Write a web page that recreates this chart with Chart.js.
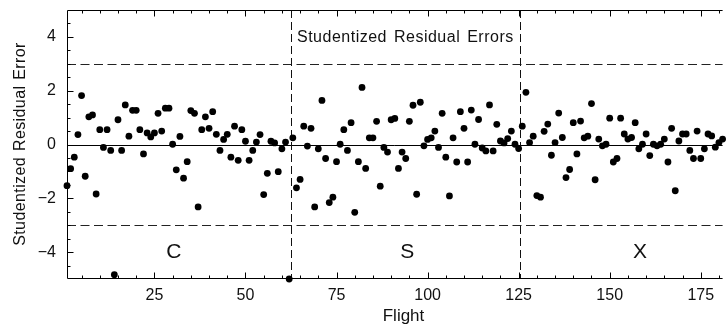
<!DOCTYPE html>
<html>
<head>
<meta charset="UTF-8">
<title>Studentized Residual Errors</title>
<script src="https://cdn.jsdelivr.net/npm/chart.js@4"></script>
<style>
  html, body { margin: 0; padding: 0; background: #fff; overflow: hidden; }
  #wrap { width: 726px; height: 326px; }
</style>
</head>
<body>
<div id="wrap"><canvas id="chart" width="726" height="326"></canvas></div>
<script>
// studentized residual per flight, flight 1..181
const residuals = [
  -1.53, -0.90, -0.47, 0.37, 1.82, -1.18, 1.03, 1.10, -1.84, 0.55,
  -0.11, 0.55, -0.22, -4.84, 0.92, -0.22, 1.47, 0.31, 1.27, 1.27,
  0.55, -0.35, 0.43, 0.28, 0.43, 1.16, 0.50, 1.35, 1.35, 0.01,
  -0.94, 0.30, -1.25, -0.64, 1.26, 1.16, -2.32, 0.55, 1.03, 0.60,
  1.22, 0.38, -0.22, 0.19, 0.38, -0.47, 0.68, -0.59, 0.55, 0.12,
  -0.59, -0.22, 0.09, 0.37, -1.86, -1.07, 0.12, 0.06, -1.01, -0.16,
  0.09, -5.00, 0.25, -1.61, -1.30, 0.68, -0.06, 0.60, -2.32, -0.16,
  1.64, -0.52, -2.16, -1.96, -0.64, 0.01, 0.55, -0.22, 0.81, -2.52,
  -0.64, 2.12, -0.89, 0.25, 0.25, 0.86, -1.55, -0.11, -0.28, 0.92,
  0.97, -0.89, -0.28, -0.52, 0.86, 1.46, -1.85, 1.57, -0.05, 0.19,
  0.25, 0.50, -0.11, 1.16, -0.47, -1.91, 0.25, -0.65, 1.22, 0.60,
  -0.65, 1.28, 0.01, 0.93, -0.13, -0.24, 1.47, -0.24, 0.75, 0.13,
  0.06, 0.22, 0.50, 0.01, -0.15, 0.68, 1.94, 0.07, 0.31, -1.90,
  -1.96, 0.49, 0.76, -0.40, 0.07, 1.17, 0.26, -1.23, -0.93, 0.81,
  -0.35, 0.87, 0.25, 0.31, 1.52, -1.31, 0.20, -0.05, 0.01, 0.98,
  -0.65, -0.52, 0.98, 0.39, 0.20, 0.26, 0.81, -0.16, 0.01, 0.39,
  -0.41, 0.01, -0.05, 0.01, 0.20, -0.65, 0.60, -1.72, 0.13, 0.39,
  0.39, -0.22, -0.52, 0.50, -0.52, -0.16, 0.39, 0.32, -0.10, 0.07,
  0.20
];

const xTicks = [25, 50, 75, 100, 125, 150, 175];
const yTicks = [-4, -2, 0, 2, 4];
const groupBreaks = [62.5, 125.5];          // vehicle change between flights
const groupLabels = ['C', 'S', 'X'];
const groupLabelX = [30.3, 94.4, 158.3];
const limitLines = [3, -3];

const FONT = '"Liberation Sans", Arial, sans-serif';
const crisp = p => Math.round(p) + 0.5;

const decor = {
  id: 'decor',
  beforeDatasetsDraw(chart) {
    const { ctx, chartArea: a, scales: { x, y } } = chart;
    ctx.save();
    // zero line
    ctx.strokeStyle = '#000';
    ctx.lineWidth = 1;
    let py = crisp(y.getPixelForValue(0));
    ctx.beginPath(); ctx.moveTo(a.left, py); ctx.lineTo(a.right, py); ctx.stroke();
    // +-3 limits
    ctx.strokeStyle = '#222';
    ctx.setLineDash([9, 4.5]);
    limitLines.forEach(v => {
      const p = crisp(y.getPixelForValue(v));
      ctx.beginPath(); ctx.moveTo(a.left, p); ctx.lineTo(a.right, p); ctx.stroke();
    });
    // group boundaries
    ctx.strokeStyle = '#111';
    ctx.setLineDash([8, 4]);
    groupBreaks.forEach(v => {
      const p = crisp(x.getPixelForValue(v));
      ctx.beginPath(); ctx.moveTo(p, a.top); ctx.lineTo(p, a.bottom); ctx.stroke();
    });
    ctx.setLineDash([]);
    // inner texts
    ctx.fillStyle = '#111';
    ctx.font = '16px ' + FONT;
    ctx.letterSpacing = '0.5px';
    ctx.wordSpacing = '2px';
    ctx.textAlign = 'left';
    ctx.textBaseline = 'alphabetic';
    ctx.fillText('Studentized Residual Errors', x.getPixelForValue(groupBreaks[0]) + 6, 41.5);
    ctx.letterSpacing = '0px';
    ctx.wordSpacing = '0px';
    ctx.font = '21px ' + FONT;
    ctx.textAlign = 'center';
    ctx.textBaseline = 'middle';
    groupLabels.forEach((t, i) => {
      ctx.fillText(t, x.getPixelForValue(groupLabelX[i]), y.getPixelForValue(-4) + 0.5);
    });
    ctx.restore();
  },
  afterDatasetsDraw(chart) {
    const { ctx, chartArea: a, scales: { x, y } } = chart;
    ctx.save();
    ctx.strokeStyle = '#000';
    ctx.lineWidth = 1;
    const L = crisp(a.left), T = crisp(a.top), B = Math.round(a.bottom) - 0.5;
    ctx.beginPath();
    ctx.moveTo(a.right, T); ctx.lineTo(L, T); ctx.lineTo(L, B); ctx.lineTo(a.right, B);
    ctx.stroke();
    // ticks, inward
    ctx.beginPath();
    for (let v = 5; v <= 180; v += 5) {
      const p = crisp(x.getPixelForValue(v));
      const len = v % 25 === 0 ? 6 : 3;
      ctx.moveTo(p, B); ctx.lineTo(p, B - len);
      ctx.moveTo(p, T); ctx.lineTo(p, T + len);
    }
    for (let v = -4.5; v <= 4.5; v += 0.5) {
      const p = crisp(y.getPixelForValue(v));
      const len = yTicks.includes(v) ? 6 : 3;
      ctx.moveTo(L, p); ctx.lineTo(L + len, p);
    }
    ctx.stroke();
    // tick labels
    ctx.fillStyle = '#111';
    ctx.font = '16px ' + FONT;
    ctx.textAlign = 'center';
    ctx.textBaseline = 'middle';
    xTicks.forEach(v => ctx.fillText(String(v), x.getPixelForValue(v), 296));
    ctx.textAlign = 'right';
    yTicks.forEach(v => ctx.fillText(v < 0 ? '\u2212' + Math.abs(v) : String(v), 56, y.getPixelForValue(v)));
    // axis titles
    ctx.textAlign = 'center';
    ctx.font = '17px ' + FONT;
    ctx.textBaseline = 'alphabetic';
    ctx.fillText('Flight', 403.5, 321);
    ctx.font = '16px ' + FONT;
    ctx.letterSpacing = '0.4px';
    ctx.wordSpacing = '1px';
    ctx.translate(25, 144);
    ctx.rotate(-Math.PI / 2);
    ctx.fillText('Studentized Residual Error', 0, 0);
    ctx.restore();
  }
};

new Chart(document.getElementById('chart'), {
  type: 'scatter',
  data: {
    datasets: [{
      data: residuals.map((v, i) => ({ x: i + 1, y: v })),
      backgroundColor: '#000',
      borderColor: '#000',
      pointRadius: 3.4,
      pointHoverRadius: 3.4,
      borderWidth: 0,
      clip: false
    }]
  },
  options: {
    responsive: false,
    animation: false,
    events: [],
    layout: { padding: { left: 67, top: 10, right: 0, bottom: 47 } },
    plugins: { legend: { display: false }, tooltip: { enabled: false } },
    scales: {
      x: { type: 'linear', min: 1, max: 181, display: false },
      y: { type: 'linear', min: -5, max: 5, display: false }
    }
  },
  plugins: [decor]
});
</script>
</body>
</html>
